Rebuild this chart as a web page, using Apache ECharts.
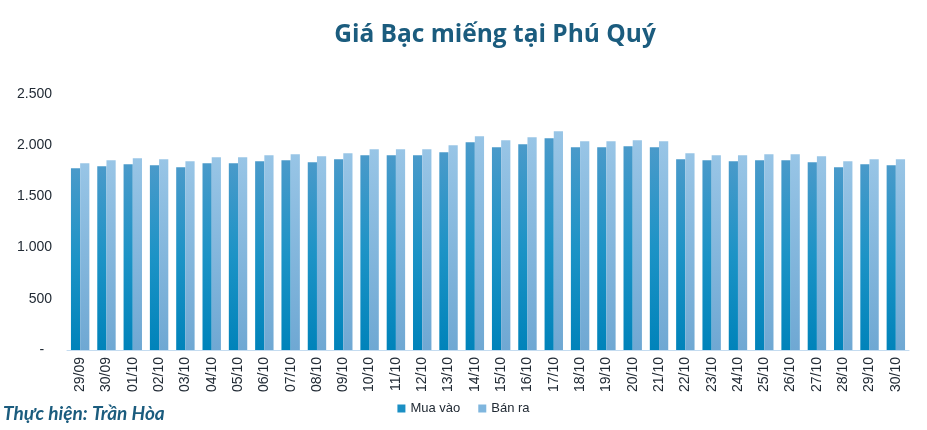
<!DOCTYPE html>
<html>
<head>
<meta charset="utf-8">
<script src="https://cdn.jsdelivr.net/npm/echarts@6/dist/echarts.min.js"></script>
<style>
  html, body { margin: 0; padding: 0; background: #fff; }
  #main { width: 927px; height: 430px; }
</style>
</head>
<body>
<div id="main"></div>
<script>
var days = ['29/09', '30/09', '01/10', '02/10', '03/10', '04/10', '05/10', '06/10', '07/10', '08/10',
    '09/10', '10/10', '11/10', '12/10', '13/10', '14/10', '15/10', '16/10', '17/10', '18/10',
    '19/10', '20/10', '21/10', '22/10', '23/10', '24/10', '25/10', '26/10', '27/10', '28/10',
    '29/10', '30/10'];
var muaVao = [1775, 1794, 1814, 1804, 1784, 1824, 1824, 1843, 1853, 1833,
    1863, 1902, 1902, 1902, 1931, 2029, 1980, 2010, 2069, 1980,
    1980, 1990, 1980, 1863, 1853, 1843, 1853, 1853, 1833, 1784,
    1814, 1804];
var banRa = [1824, 1853, 1873, 1863, 1843, 1882, 1882, 1902, 1912, 1892,
    1922, 1961, 1961, 1961, 2000, 2088, 2049, 2078, 2137, 2039,
    2039, 2049, 2039, 1922, 1902, 1902, 1912, 1912, 1892, 1843,
    1863, 1863];

function fmt(v) {
    if (v === 0) return '-  ';
    return String(v).replace(/\B(?=(\d{3})+(?!\d))/g, '.');
}

var chart = echarts.init(document.getElementById('main'));
chart.setOption({
    backgroundColor: '#fff',
    animation: false,
    title: {
        text: 'Giá Bạc miếng tại Phú Quý',
        left: 490,
        textAlign: 'center',
        top: 18,
        textStyle: { fontFamily: 'Open Sans', fontWeight: 'bold', fontSize: 24.5, color: '#1b5c7e' }
    },
    legend: {
        bottom: 10,
        left: 'center',
        itemWidth: 8,
        itemHeight: 8,
        itemGap: 18,
        icon: 'rect',
        textStyle: { fontFamily: 'Liberation Sans', fontSize: 13, color: '#222b35' },
        data: [
            { name: 'Mua vào', itemStyle: { color: '#1a8fc4' } },
            { name: 'Bán ra', itemStyle: { color: '#7fb6de' } }
        ]
    },
    graphic: [{
        type: 'text',
        left: 3,
        top: 404,
        style: {
            text: 'Thực hiện: Trần Hòa',
            font: 'italic bold 19px Lato',
            fill: '#1b5c7e'
        }
    }],
    grid: { left: 67, right: 18, top: 94, bottom: 80 },
    xAxis: {
        type: 'category',
        data: days,
        axisLine: { lineStyle: { color: '#c5dcf0', width: 1 } },
        axisTick: { show: false },
        axisLabel: {
            rotate: 90,
            margin: 7,
            interval: 0,
            fontFamily: 'Liberation Sans',
            fontSize: 14,
            color: '#222b35'
        }
    },
    yAxis: {
        type: 'value',
        min: 0,
        max: 2500,
        interval: 500,
        splitLine: { show: false },
        axisLine: { show: false },
        axisTick: { show: false },
        axisLabel: {
            margin: 15,
            fontFamily: 'Liberation Sans',
            fontSize: 14,
            color: '#222b35',
            formatter: fmt
        }
    },
    series: [{
        name: 'Mua vào',
        type: 'bar',
        data: muaVao,
        barWidth: '35%',
        barGap: '0%',
        itemStyle: {
            color: new echarts.graphic.LinearGradient(0, 0, 0, 1, [
                { offset: 0, color: '#4a9aca' },
                { offset: 0.5, color: '#1c93c6' },
                { offset: 1, color: '#0083ba' }
            ])
        }
    }, {
        name: 'Bán ra',
        type: 'bar',
        data: banRa,
        barWidth: '35%',
        itemStyle: {
            color: new echarts.graphic.LinearGradient(0, 0, 0, 1, [
                { offset: 0, color: '#98c5e6' },
                { offset: 1, color: '#6fa8d3' }
            ])
        }
    }]
});
</script>
</body>
</html>
